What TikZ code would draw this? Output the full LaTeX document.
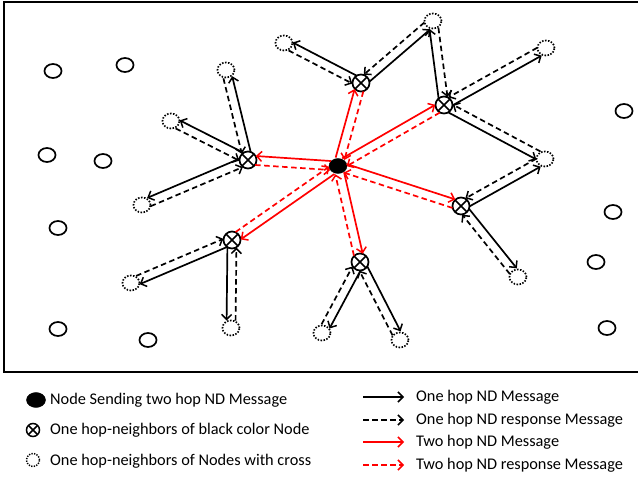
\documentclass[tikz,border=0pt]{standalone}
\usepackage{fontspec}
\setmainfont{Carlito}
\usetikzlibrary{calc,arrows.meta,shapes.geometric}
\tikzset{
  tip/.style={-{Straight Barb[length=5pt,width=10pt,line width=1.5pt]}},
  onehop/.style={tip,black,line width=1.7pt},
  oneresp/.style={tip,black,line width=1.7pt,dash pattern=on 5.5pt off 3.5pt},
  twohop/.style={tip,red,line width=1.7pt},
  tworesp/.style={tip,red,line width=1.7pt,dash pattern=on 5.5pt off 3.5pt},
  sh/.style={shorten <=7.5pt,shorten >=7.5pt},
  plain/.style={ellipse,draw,line width=1.7pt,minimum width=17pt,minimum height=14pt,inner sep=0pt},
  dotnode/.style={ellipse,draw,line width=1.7pt,dash pattern=on 1.5pt off 1.5pt,minimum width=17pt,minimum height=15pt,inner sep=0pt},
  crossnode/.style={circle,draw,line width=1.7pt,minimum size=17pt,inner sep=0pt,
    path picture={\draw[line width=1.5pt] (path picture bounding box.north west)--(path picture bounding box.south east)
      (path picture bounding box.north east)--(path picture bounding box.south west);}},
  blacknode/.style={ellipse,fill=black,draw=black,minimum width=18pt,minimum height=15pt,inner sep=0pt},
  legtext/.style={anchor=west,inner sep=0pt,font=\fontsize{16.3}{19}\selectfont},
}
\newcommand\hoppair[5]{%
  \draw[#3,sh] ($(#1)!#5!90:(#2)$) -- ($(#2)!#5!-90:(#1)$);
  \draw[#4,sh] ($(#2)!#5!90:(#1)$) -- ($(#1)!#5!-90:(#2)$);
}
\begin{document}
\begin{tikzpicture}[x=1pt,y=-1pt]
\useasboundingbox (0,0) rectangle (638,478);
\draw[line width=2pt] (4,2) rectangle (645,372);
% plain nodes
\foreach \n/\x/\y in {p1/53/71,p2/125/65,p3/47/155,p4/103/161,p5/58/228,p6/58/329,p7/148/340,p8/624/111,p9/613/212,p10/596/262,p11/607/328}
  \node[plain] (\n) at (\x,\y) {};
% center
\node[blacknode] (K) at (338,166) {};
% cross nodes
\node[crossnode] (A) at (248,160) {};
\node[crossnode] (B) at (361,83) {};
\node[crossnode] (C) at (444,105) {};
\node[crossnode] (D) at (461,206) {};
\node[crossnode] (E) at (360,262) {};
\node[crossnode] (F) at (232,240) {};
% dotted nodes
\node[dotnode] (a1) at (226,70) {};
\node[dotnode] (a2) at (171,121) {};
\node[dotnode] (a3) at (142,205) {};
\node[dotnode] (b1) at (284,43) {};
\node[dotnode] (t) at (433,21) {};
\node[dotnode] (c1) at (546,48) {};
\node[dotnode] (r) at (545,159) {};
\node[dotnode] (d1) at (518,277) {};
\node[dotnode] (e1) at (322,333) {};
\node[dotnode] (e2) at (400,340) {};
\node[dotnode] (f1) at (131,283) {};
\node[dotnode] (f2) at (231,328) {};
% one hop pairs
\hoppair{A}{a1}{onehop}{oneresp}{-4.5pt}
\hoppair{A}{a2}{onehop}{oneresp}{-4.5pt}
\hoppair{A}{a3}{onehop}{oneresp}{-4.5pt}
\hoppair{B}{b1}{onehop}{oneresp}{-4.5pt}
\hoppair{B}{t}{onehop}{oneresp}{-4.5pt}
\hoppair{C}{t}{onehop}{oneresp}{4.5pt}
\hoppair{C}{c1}{onehop}{oneresp}{-4.5pt}
\hoppair{C}{r}{onehop}{oneresp}{-4.5pt}
\hoppair{D}{r}{onehop}{oneresp}{-4.5pt}
\hoppair{D}{d1}{onehop}{oneresp}{4.5pt}
\hoppair{E}{e1}{onehop}{oneresp}{4.5pt}
\hoppair{E}{e2}{onehop}{oneresp}{4.5pt}
\hoppair{F}{f1}{onehop}{oneresp}{4.5pt}
\hoppair{F}{f2}{onehop}{oneresp}{-4.5pt}
% two hop pairs
\hoppair{K}{A}{twohop}{tworesp}{-4.5pt}
\hoppair{K}{B}{twohop}{tworesp}{4.5pt}
\hoppair{K}{C}{twohop}{tworesp}{4.5pt}
\hoppair{K}{D}{twohop}{tworesp}{4.5pt}
\hoppair{K}{E}{twohop}{tworesp}{4.5pt}
\hoppair{K}{F}{twohop}{tworesp}{4.5pt}
% legend left
\node[blacknode,minimum width=19pt,minimum height=15pt] (lk) at (36,400) {};
\node[crossnode,minimum size=13pt,line width=1.5pt] (lc) at (33,430) {};
\node[dotnode,minimum width=13pt,minimum height=13pt,line width=1.5pt,dash pattern=on 1.3pt off 1.3pt] (ld) at (33,460) {};
\node[legtext] (lt1) at (50,400) {Node Sending two hop ND Message};
\node[legtext] (lt2) at (50,430) {One hop-neighbors of black color Node};
\node[legtext] (lt3) at (50,461) {One hop-neighbors of Nodes with cross};
% legend right
\coordinate (s1) at (363,397); \coordinate (e1l) at (404,397);
\coordinate (s2) at (363,420); \coordinate (e2l) at (404,420);
\coordinate (s3) at (363,442); \coordinate (e3l) at (404,442);
\coordinate (s4) at (363,465); \coordinate (e4l) at (404,465);
\draw[onehop] (s1) -- (e1l);
\draw[oneresp] (s2) -- (e2l);
\draw[twohop] (s3) -- (e3l);
\draw[tworesp] (s4) -- (e4l);
\node[legtext] (rt1) at (416,397) {One hop ND Message};
\node[legtext] (rt2) at (416,420) {One hop ND response Message};
\node[legtext] (rt3) at (416,442) {Two hop ND Message};
\node[legtext] (rt4) at (416,465) {Two hop ND response Message};
\end{tikzpicture}
\end{document}
